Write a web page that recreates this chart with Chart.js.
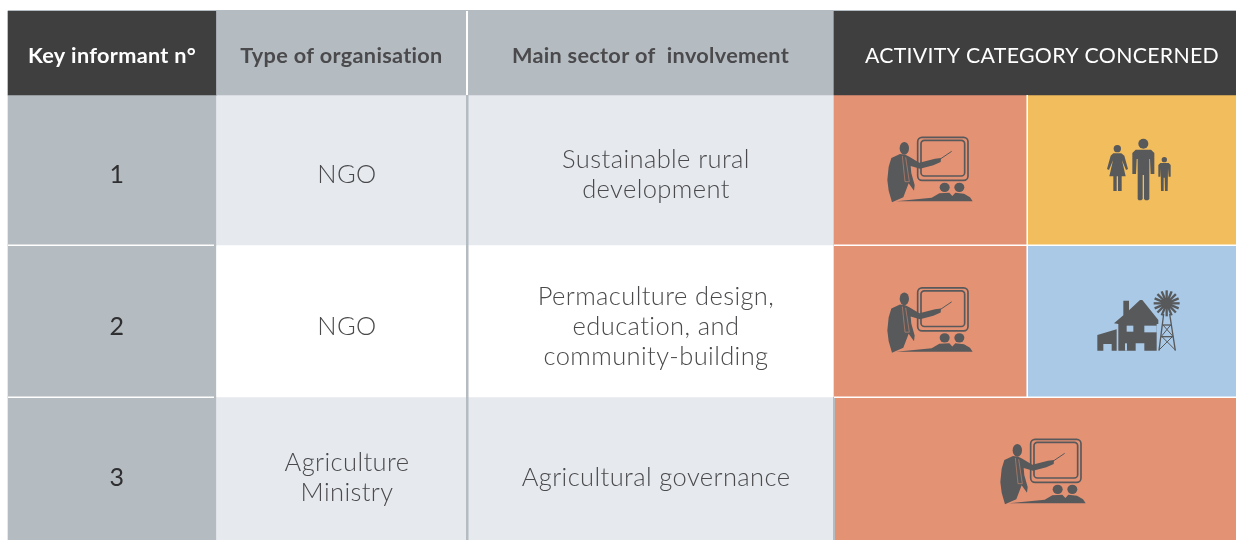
<!DOCTYPE html>
<html>
<head>
<meta charset="utf-8">
<title>Key informants</title>
<script src="https://cdn.jsdelivr.net/npm/chart.js@4"></script>
<style>
  html, body { margin: 0; padding: 0; background: #fff; }
  canvas { display: block; }
</style>
</head>
<body>
<canvas id="chart" width="1236" height="540"></canvas>
<script>
// table content
const headers = ['Key informant n°', 'Type of organisation', 'Main sector of  involvement', 'ACTIVITY CATEGORY CONCERNED'];
const informants = ['1', '2', '3'];
const organisations = [['NGO'], ['NGO'], ['Agriculture', 'Ministry']];
const sectors = [
    ['Sustainable rural', 'development'],
    ['Permaculture design,', 'education, and', 'community-building'],
    ['Agricultural governance']
];
const activities = [['teaching', 'family'], ['teaching', 'farm'], ['teaching']];

// layout, in axis units (the axes run 0-1236 and 0-540)
const colEdges = [8, 216.5, 467, 834, 1027, 1236];
const rowEdges = [11, 95, 245, 397, 540];
const colCentres = [117, 347, 656];
const headerCentres = [112, 341.5, 650.5, 1042];
const iconSpots = [[[870, 120], [1090, 125]], [[870, 270.5], [1085, 280]], [[983, 422]]];

const DARK = '#3f3f3f', GREY = '#b4bbc1', PALE = '#e6e9ee', WHITE = '#ffffff';
const ICON = '#58595b', TEXT = '#4a4a4c';
const activityColours = { teaching: '#e49274', family: '#f2bd5c', farm: '#a9c9e6' };
const FONT = 'Lato, sans-serif';

function cell(rowIdx, from, to) {
    return { x: [colEdges[from], colEdges[to]], y: (rowEdges[rowIdx] + rowEdges[rowIdx + 1]) / 2 };
}

const datasets = [];
datasets.push({
    barThickness: rowEdges[1] - rowEdges[0],
    data: [cell(0, 0, 1), cell(0, 1, 3), cell(0, 3, 5)],
    backgroundColor: [DARK, GREY, DARK]
});
informants.forEach((_, i) => {
    const band = i === 1 ? WHITE : PALE;
    const data = [cell(i + 1, 0, 1), cell(i + 1, 1, 3)];
    const colours = [GREY, band];
    if (activities[i].length === 2) {
        data.push(cell(i + 1, 3, 4), cell(i + 1, 4, 5));
    } else {
        data.push(cell(i + 1, 3, 5));
    }
    activities[i].forEach(a => colours.push(activityColours[a]));
    datasets.push({
        barThickness: rowEdges[i + 2] - rowEdges[i + 1],
        data: data,
        backgroundColor: colours
    });
});

function poly(ctx, pts) {
    ctx.beginPath();
    pts.forEach((p, i) => i ? ctx.lineTo(p[0], p[1]) : ctx.moveTo(p[0], p[1]));
    ctx.closePath();
    ctx.fill();
}

function disc(ctx, x, y, rx, ry) {
    ctx.beginPath();
    ctx.ellipse(x, y, rx, ry || rx, 0, 0, Math.PI * 2);
    ctx.fill();
}

function line(ctx, x1, y1, x2, y2, w) {
    ctx.lineWidth = w;
    ctx.beginPath();
    ctx.moveTo(x1, y1);
    ctx.lineTo(x2, y2);
    ctx.stroke();
}

function roundBox(ctx, x, y, w, h, r, lw) {
    ctx.lineWidth = lw;
    ctx.beginPath();
    ctx.roundRect(x, y, w, h, r);
    ctx.stroke();
}

// icon outlines are traced in a 3x grid, from the top left of each icon box
const icons = {
    teaching(ctx) {
        roundBox(ctx, 143, 52, 151, 129, 13, 5);
        roundBox(ctx, 153, 61, 131, 107, 10, 5);
        disc(ctx, 103, 85, 14, 19);
        poly(ctx, [[90, 102], [64, 114], [56, 140], [52, 180], [56, 212], [66, 247], [100, 232],
            [116, 190], [132, 212], [134, 195], [124, 160], [122, 138], [150, 146], [190, 136], [212, 126], [213, 114],
            [195, 116], [148, 128], [118, 110], [106, 104]]);
        ctx.strokeStyle = activityColours.teaching;
        line(ctx, 97, 108, 105, 185, 1.5);
        line(ctx, 107, 112, 118, 185, 1.5);
        line(ctx, 105, 185, 118, 185, 1.5);
        ctx.strokeStyle = ICON;
        line(ctx, 205, 121, 245, 94, 3);
        disc(ctx, 224, 202, 15, 14);
        disc(ctx, 268, 202, 15, 14);
        poly(ctx, [[78, 244], [185, 233], [208, 220], [238, 218], [247, 228], [256, 218], [282, 221],
            [300, 232], [308, 244]]);
    },
    family(ctx) {
        // woman
        disc(ctx, 82, 71, 11);
        poly(ctx, [[70, 85], [94, 85], [103, 92], [114, 132], [108, 135], [96, 106], [107, 154], [58, 154], [69, 106], [57, 135], [51, 132], [62, 92]]);
        ctx.fillRect(70, 150, 10, 48);
        ctx.fillRect(84, 150, 11, 48);
        // man
        disc(ctx, 160, 56, 15);
        poly(ctx, [[137, 74], [183, 74], [193, 84], [193, 147], [182, 147], [180, 102], [178, 102], [178, 222], [174, 226], [166, 226], [162, 222], [162, 150], [158, 150], [158, 222], [154, 226], [146, 226], [143, 222], [143, 102], [140, 102], [138, 147], [127, 147], [127, 84]]);
        // child
        disc(ctx, 223, 104, 8);
        poly(ctx, [[211, 114], [236, 114], [242, 120], [242, 155], [236, 155], [234, 130], [233, 198], [225, 198], [224, 158], [221, 158], [221, 198], [213, 198], [212, 130], [211, 155], [205, 155], [205, 120]]);
    },
    farm(ctx) {
        // house
        poly(ctx, [[87, 130], [115, 106], [115, 62], [132, 62], [132, 91], [165, 60], [172, 60], [220, 120], [220, 132], [215, 132], [215, 212], [178, 212], [178, 190], [152, 190], [152, 212], [100, 212], [100, 132]]);
        // shed
        poly(ctx, [[37, 165], [95, 148], [95, 212], [80, 212], [80, 192], [55, 192], [55, 212], [37, 212]]);
        ctx.fillStyle = activityColours.farm;
        ctx.fillRect(125, 137, 20, 18);
        ctx.fillRect(178, 137, 37, 20);
        ctx.fillRect(120, 190, 6, 22);
        ctx.fillStyle = ICON;
        // windmill wheel
        disc(ctx, 245, 70, 17);
        for (let a = 0; a < 16; a++) {
            const t = a * Math.PI / 8;
            line(ctx, 245 + 14 * Math.cos(t), 70 + 14 * Math.sin(t), 245 + 39 * Math.cos(t), 70 + 39 * Math.sin(t), 7);
        }
        // windmill tower
        line(ctx, 236, 102, 222, 212, 4);
        line(ctx, 254, 102, 271, 212, 4);
        line(ctx, 233, 135, 258, 135, 4);
        line(ctx, 228, 170, 265, 170, 4);
        line(ctx, 222, 210, 264, 168, 3);
        line(ctx, 271, 210, 229, 168, 3);
        line(ctx, 230, 168, 257, 135, 3);
        line(ctx, 263, 168, 234, 135, 3);
    }
};

const tablePlugin = {
    id: 'tableOverlay',
    afterDatasetsDraw(chart) {
        const ctx = chart.ctx;
        const sx = chart.scales.x, sy = chart.scales.y;
        const px = v => sx.getPixelForValue(v), py = v => sy.getPixelForValue(v);

        ctx.save();
        // thin rules between the cells
        ctx.fillStyle = GREY;
        ctx.fillRect(px(466), py(95), 2.5, py(540) - py(95));
        ctx.fillRect(px(8), py(10), 1228, 1);
        ctx.fillRect(px(833), py(397), 2, 143);
        ctx.fillStyle = WHITE;
        ctx.fillRect(px(466), py(11), 2, 84);
        ctx.fillRect(px(1026.5), py(95), 1.5, 302);
        ctx.fillRect(px(834), py(244.5), 402, 1.5);
        ctx.fillRect(px(834), py(396.5), 402, 1.5);
        ctx.fillRect(px(8), py(244.5), 206, 1.5);
        ctx.fillRect(px(8), py(396.5), 206, 1.5);

        // icons
        activities.forEach((row, r) => row.forEach((name, c) => {
            const spot = iconSpots[r][c];
            ctx.save();
            ctx.translate(px(spot[0]), py(spot[1]));
            ctx.scale(1 / 3, 1 / 3);
            ctx.fillStyle = ICON;
            ctx.strokeStyle = ICON;
            icons[name](ctx);
            ctx.restore();
        }));

        // header text
        ctx.textAlign = 'center';
        ctx.textBaseline = 'middle';
        const headWeights = ['700', '700', '700', '400'];
        const headSizes = [21.7, 21.7, 21.7, 21.3];
        const headColours = [WHITE, TEXT, TEXT, WHITE];
        headers.forEach((h, i) => {
            ctx.font = headWeights[i] + ' ' + headSizes[i] + 'px ' + FONT;
            ctx.letterSpacing = '0.3px';
            ctx.fillStyle = headColours[i];
            ctx.fillText(h, px(headerCentres[i]), py(56));
        });

        // body text
        const rowMiddle = r => (rowEdges[r + 1] + rowEdges[r + 2]) / 2 + 1;
        ctx.fillStyle = TEXT;
        ctx.letterSpacing = '0.4px';
        const stack = (lines, x, mid) => {
            lines.forEach((t, i) => {
                ctx.fillText(t, px(x), py(mid + (i - (lines.length - 1) / 2) * 30));
            });
        };
        const midOffsets = [4, 5, 8];
        informants.forEach((n, r) => {
            ctx.font = '400 25px ' + FONT;
            ctx.fillStyle = '#2f2f31';
            stack([n], colCentres[0], rowMiddle(r) + midOffsets[r]);
            ctx.font = '300 25.5px ' + FONT;
            ctx.fillStyle = TEXT;
            stack(organisations[r], colCentres[1], rowMiddle(r) + midOffsets[r]);
            stack(sectors[r], colCentres[2], rowMiddle(r) + midOffsets[r]);
        });
        ctx.restore();
    }
};

new Chart(document.getElementById('chart'), {
    type: 'bar',
    data: { datasets: datasets },
    options: {
        indexAxis: 'y',
        responsive: false,
        animation: false,
        grouped: false,
        layout: { padding: 0 },
        plugins: { legend: { display: false }, tooltip: { enabled: false } },
        scales: {
            x: { type: 'linear', min: 0, max: 1236, display: false },
            y: { type: 'linear', min: 0, max: 540, reverse: true, offset: false, display: false }
        }
    },
    plugins: [tablePlugin]
});
</script>
</body>
</html>
